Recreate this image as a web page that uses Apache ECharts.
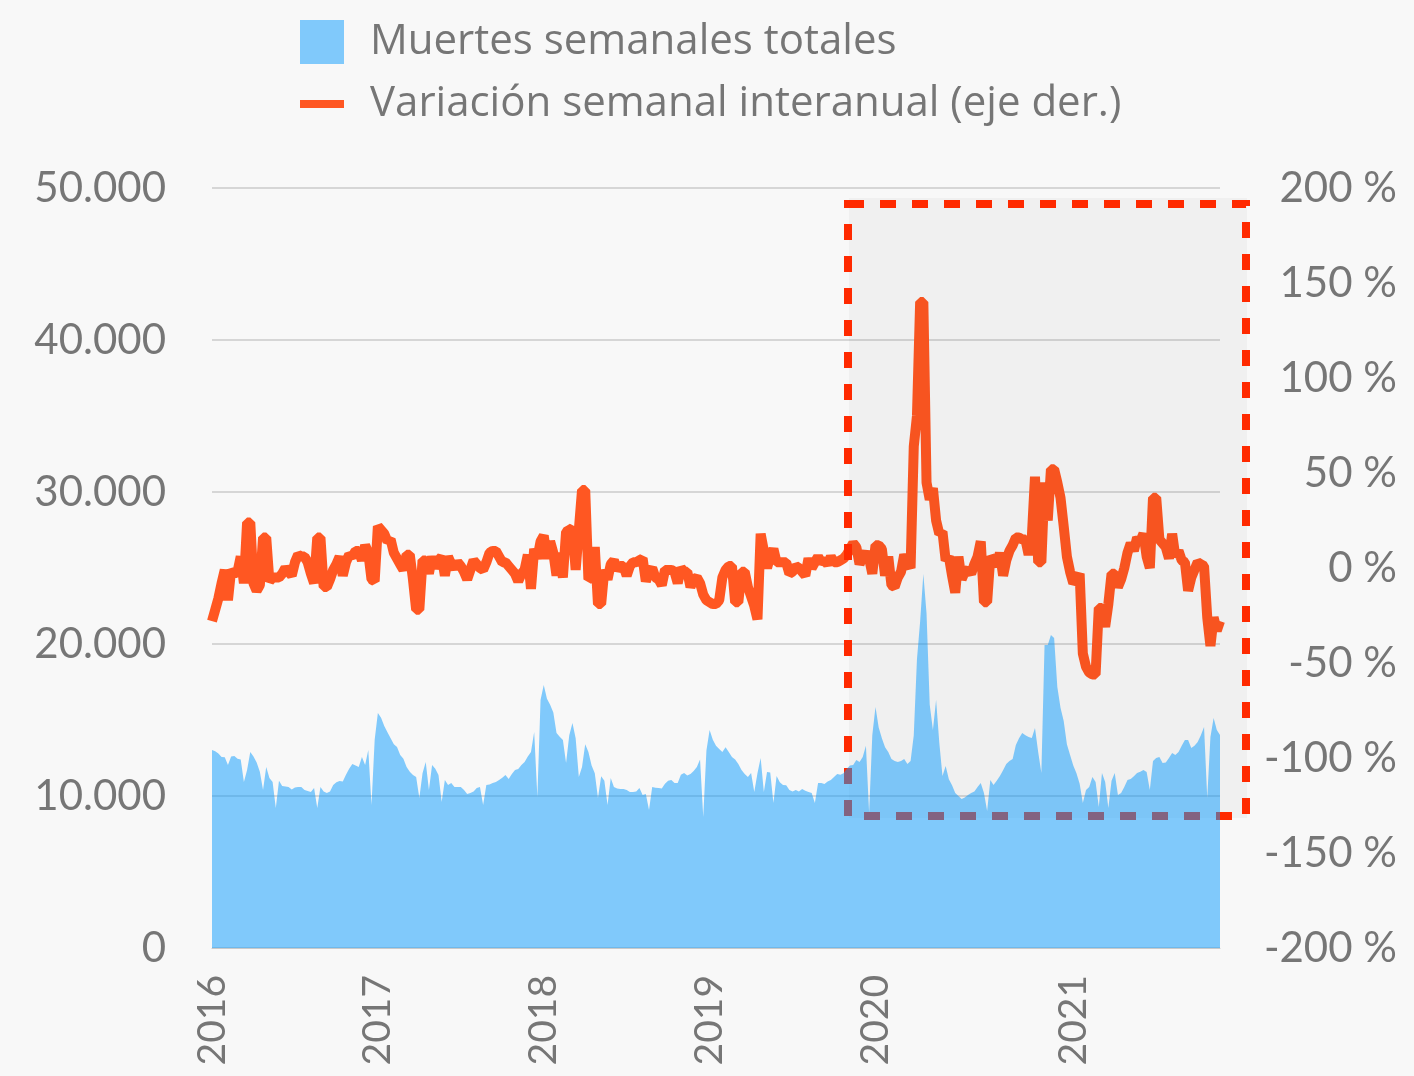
<!DOCTYPE html>
<html>
<head>
<meta charset="UTF-8">
<title>Muertes semanales</title>
<script src="https://cdn.jsdelivr.net/npm/echarts@6/dist/echarts.min.js"></script>
<style type="text/css">
body{
	margin:0;
	padding:0;
	background:#f8f8f8;
}
#grafico{
	width:1414px;
	height:1076px;
}
</style>
</head>
<body>
<div id="grafico"></div>
<script type="text/javascript">
// etiquetas de año y la semana (indice) donde empieza cada una
var yearLabels = ['2016', '2017', '2018', '2019', '2020', '2021'];
var yearIndex = [0, 52, 104, 156, 208, 270];

// muertes semanales totales (eje izq.)
var deaths = [
  13030,12950,12800,12570,12550,12040,12600,12630,12450,12400,
  10920,11710,12900,12600,12200,11600,10390,11910,11180,10920,
  9210,11000,10660,10620,10590,10420,10560,10590,10590,10400,
  10330,10260,10530,9210,10590,10300,10200,10300,10720,10900,
  10990,10950,11400,11800,12100,12000,11910,12570,12040,13030,
  9410,13700,
  15460,15150,14600,14200,13800,13400,13220,12700,12450,11910,
  11600,11380,11250,9870,11500,12240,10390,12040,11800,11380,
  9600,11050,10720,10850,10600,10590,10590,10400,10130,10200,
  10300,10530,10600,9410,10720,10750,10850,10920,11050,11200,
  11380,11120,11450,11710,11780,12040,12240,12600,12900,14210,
  9930,16320,
  17300,16400,16000,15500,14150,13900,13680,12170,14000,14800,
  13800,11250,11900,13400,12900,12000,11500,9870,11300,11000,
  9410,11180,10600,10500,10460,10460,10400,10260,10260,10300,
  10530,10070,10130,9080,10590,10550,10530,10500,10800,11000,
  11050,10850,10850,11400,11510,11350,11450,11650,11910,12400,
  8620,13000,
  14340,13700,13300,13100,12900,13200,12900,12570,12400,12100,
  11710,11450,11250,11510,10260,11500,12500,10260,11580,11550,
  9540,11320,10900,10720,10700,10400,10300,10390,10300,10460,
  10350,10260,10200,9540,10850,10850,10790,10950,11050,11250,
  11450,11400,11500,11800,12000,12040,12370,12240,12570,13300,
  8880,14000,
  15860,14500,13800,13200,12900,12430,12300,12240,12300,12430,
  12100,12300,14000,19000,21500,24600,22000,16000,14340,16320,
  13500,11320,11970,11100,10700,10200,10000,9800,9900,10070,
  10200,10300,10600,10850,10200,9010,11050,10720,11000,11320,
  11700,12100,12300,12430,13360,13800,14150,14000,13880,13820,
  14470,12900,11510,19930,19930,20590,20400,17170,15800,14930,
  13400,12700,12000,11500,10800,9540,10390,10600,11250,10920,
  9280,11510,10920,9210,11000,11510,10070,10200,10600,11050,
  11120,11300,11510,11600,11710,11580,10390,12300,12500,12570,
  12170,12200,12500,12830,12700,12900,13300,13680,13680,13160,
  13300,13550,14000,14540,9870,13880,15130,14340,14010
];

// variacion semanal interanual en % (eje der.)
var yoy = [
  -28,-22,-16,-8,-1,-17,-1,-3,-2,6,
  -8,24,24,-8,-12,-9,16,16,-7,-5,
  -5,-5,-3,0,-2,-4,3,7,6,6,
  3,-3,-8,16,16,-10,-10,-6,-1,2,
  6,-4,3,7,6,9,9,4,12,8,
  -6,-7,
  22,20,18,14,15,8,5,2,-1,7,
  7,-6,-22,-22,4,4,-3,6,0,4,
  6,-4,6,2,0,3,1,-2,-6,-1,
  4,2,0,-1,3,8,9,9,6,3,
  3,1,-1,-3,-7,-3,-1,7,-11,10,
  5,14,
  17,5,14,8,-4,8,-5,19,20,21,
  -1,20,41,41,-6,-5,11,-19,-19,-1,
  -6,2,4,-1,1,1,-4,1,3,3,
  4,5,-7,-2,0,-5,-6,-9,-1,-1,
  -1,-2,-8,0,-2,-2,-10,-6,-5,-8,
  -14,-17,
  -18,-19,-19,-17,-5,-1,1,1,-18,-18,
  -2,-2,-10,-15,-20,-27,18,9,0,6,
  10,3,3,3,3,-3,-2,1,0,-2,
  -4,5,0,3,6,3,4,2,6,3,
  3,4,5,7,10,13,11,2,6,8,
  5,-3,
  12,12,10,-4,6,-9,-10,-5,-2,7,
  3,0,64,80,140,140,45,36,42,25,
  18,19,4,6,-4,-13,6,-6,-2,-1,
  -3,2,6,14,-18,-18,6,4,1,8,
  -4,4,9,12,16,16,15,15,7,16,
  48,3,3,45,25,52,52,45,37,22,
  6,-2,-8,-6,-3,-45,-52,-55,-56,-56,
  -21,-21,-31,-19,-3,-3,-10,-6,0,8,
  13,9,16,14,18,6,0,37,37,15,
  13,11,5,18,6,9,4,3,-12,-5,
  -1,3,2,1,-26,-41,-26,-33,-28
];

var weeks = deaths.map(function (v, i) { return 'S' + i; });

var gris = '#767676';
var fuente = 'Lato';
var fuenteLeyenda = 'Open Sans';
var azul = 'rgba(11,154,254,0.51)';
var naranja = '#ff5722';

function miles(v) {
	return String(v).replace(/\B(?=(\d{3})+(?!\d))/g, '.');
}

var myChart = echarts.init(document.getElementById('grafico'));

var option = {
	backgroundColor: '#f8f8f8',
	animation: false,
	textStyle: { fontFamily: fuente },
	legend: [
		{
			left: 295, top: 15,
			itemWidth: 44, itemHeight: 44,
			icon: 'rect',
			data: ['Muertes semanales totales'],
			textStyle: { fontSize: 42, color: gris, fontFamily: fuenteLeyenda, padding: [0, 0, 0, 21] }
		},
		{
			left: 295, top: 78,
			itemWidth: 44, itemHeight: 8,
			icon: 'rect',
			data: ['Variación semanal interanual (eje der.)'],
			textStyle: { fontSize: 42, color: gris, fontFamily: fuenteLeyenda, padding: [0, 0, 0, 21] }
		}
	],
	grid: { left: 212, right: 194, top: 188, bottom: 128 },
	xAxis: {
		type: 'category',
		data: weeks,
		boundaryGap: false,
		axisTick: { show: false },
		axisLine: { lineStyle: { color: '#c9c9c9', width: 1 } },
		axisLabel: {
			rotate: 90,
			margin: 27,
			fontSize: 39,
			color: gris,
			fontFamily: fuente,
			interval: function (i) { return yearIndex.indexOf(i) >= 0; },
			formatter: function (v, i) { return yearLabels[yearIndex.indexOf(i)]; }
		}
	},
	yAxis: [
		{
			type: 'value',
			min: 0, max: 50000, interval: 10000,
			axisLine: { show: false },
			axisTick: { show: false },
			splitLine: { lineStyle: { color: '#d6d6d6', width: 2 } },
			axisLabel: { margin: 46, fontSize: 42, color: gris, fontFamily: fuente, formatter: miles }
		},
		{
			type: 'value',
			position: 'right',
			min: -200, max: 200, interval: 50,
			axisLine: { show: false },
			axisTick: { show: false },
			splitLine: { show: false },
			axisLabel: { margin: 177, align: 'right', fontSize: 42, color: gris, fontFamily: fuente, formatter: '{value} %' }
		}
	],
	graphic: [
		{
			type: 'rect', z: 2, silent: true,
			shape: { x: 849, y: 198, width: 398, height: 620 },
			style: { fill: 'rgba(0,0,0,0.03)' }
		},
		{
			type: 'rect', z: 2, silent: true,
			shape: { x: 848, y: 204, width: 398, height: 612 },
			style: { fill: 'none', stroke: '#ff2a00', lineWidth: 8, lineDash: [16, 16] }
		}
	],
	series: [
		{
			name: 'Muertes semanales totales',
			type: 'line',
			yAxisIndex: 0,
			data: deaths,
			z: 3,
			symbol: 'none',
			color: azul,
			lineStyle: { width: 0 },
			areaStyle: { color: azul, opacity: 1 }
		},
		{
			name: 'Variación semanal interanual (eje der.)',
			type: 'line',
			yAxisIndex: 1,
			data: yoy,
			z: 1,
			symbol: 'none',
			color: naranja,
			lineStyle: { width: 10, join: 'bevel' }
		}
	]
};

myChart.setOption(option);
</script>
</body>
</html>
